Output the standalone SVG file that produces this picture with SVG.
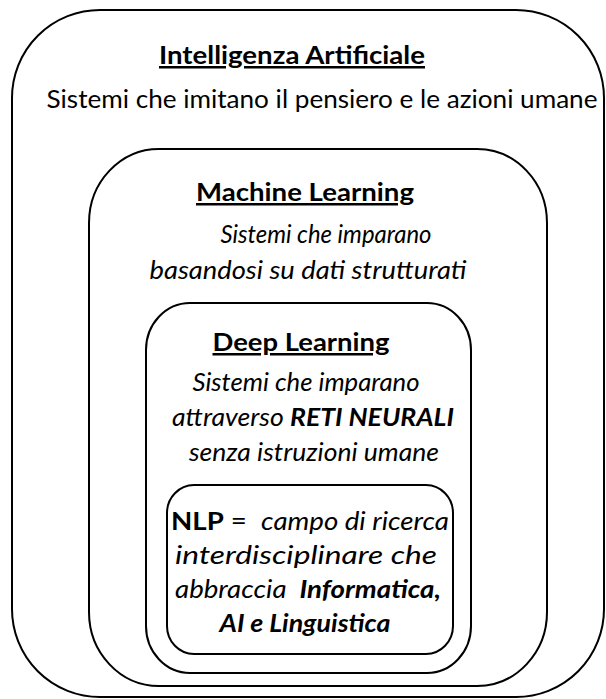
<svg xmlns="http://www.w3.org/2000/svg" width="606" height="699" viewBox="0 0 606 699">
<style>
.box{fill:none;stroke:#000;stroke-width:2}
text{font-family:Lato,"Open Sans","Liberation Sans",sans-serif;font-size:25px;fill:#000;text-anchor:middle}
.t{font-weight:bold;text-decoration:underline}
.i{font-style:italic}
.b{font-weight:bold}
</style>
<rect width="606" height="699" fill="#fff"/>
<g id="ai">
<rect class="box" x="12" y="10" width="592" height="687" rx="88" ry="88"/>
<text class="t" x="292" y="64" textLength="266" lengthAdjust="spacingAndGlyphs">Intelligenza Artificiale</text>
<text x="322" y="108" textLength="551" lengthAdjust="spacingAndGlyphs">Sistemi che imitano il pensiero e le azioni umane</text>
</g>
<g id="ml">
<rect class="box" x="89" y="149" width="458" height="537" rx="70" ry="74"/>
<text class="t" x="305" y="201" textLength="218" lengthAdjust="spacingAndGlyphs">Machine Learning</text>
<text class="i" x="326" y="243" textLength="211" lengthAdjust="spacingAndGlyphs">Sistemi che imparano</text>
<text class="i" x="308" y="279" textLength="317" lengthAdjust="spacingAndGlyphs">basandosi su dati strutturati</text>
</g>
<g id="dl">
<rect class="box" x="146" y="303" width="325" height="370" rx="44" ry="47"/>
<text class="t" x="301" y="351" textLength="177" lengthAdjust="spacingAndGlyphs">Deep Learning</text>
<text class="i" x="306" y="391" textLength="227" lengthAdjust="spacingAndGlyphs">Sistemi che imparano</text>
<text class="i" x="313" y="426" textLength="282" lengthAdjust="spacingAndGlyphs">attraverso <tspan class="b">RETI NEURALI</tspan></text>
<text class="i" x="314" y="461" textLength="250" lengthAdjust="spacingAndGlyphs">senza istruzioni umane</text>
</g>
<g id="nlp">
<rect class="box" x="167" y="485" width="286" height="169" rx="27" ry="28"/>
<text x="310" y="530" textLength="278" lengthAdjust="spacingAndGlyphs"><tspan class="b">NLP</tspan> =&#160; <tspan class="i">campo di ricerca</tspan></text>
<text class="i" x="306" y="564" textLength="262" lengthAdjust="spacingAndGlyphs">interdisciplinare che</text>
<text class="i" x="308" y="598" textLength="266" lengthAdjust="spacingAndGlyphs">abbraccia&#160; <tspan class="b">Informatica,</tspan></text>
<text class="i b" x="305" y="632" textLength="171" lengthAdjust="spacingAndGlyphs">AI e Linguistica</text>
</g>
<g id="connectors"></g>
</svg>
